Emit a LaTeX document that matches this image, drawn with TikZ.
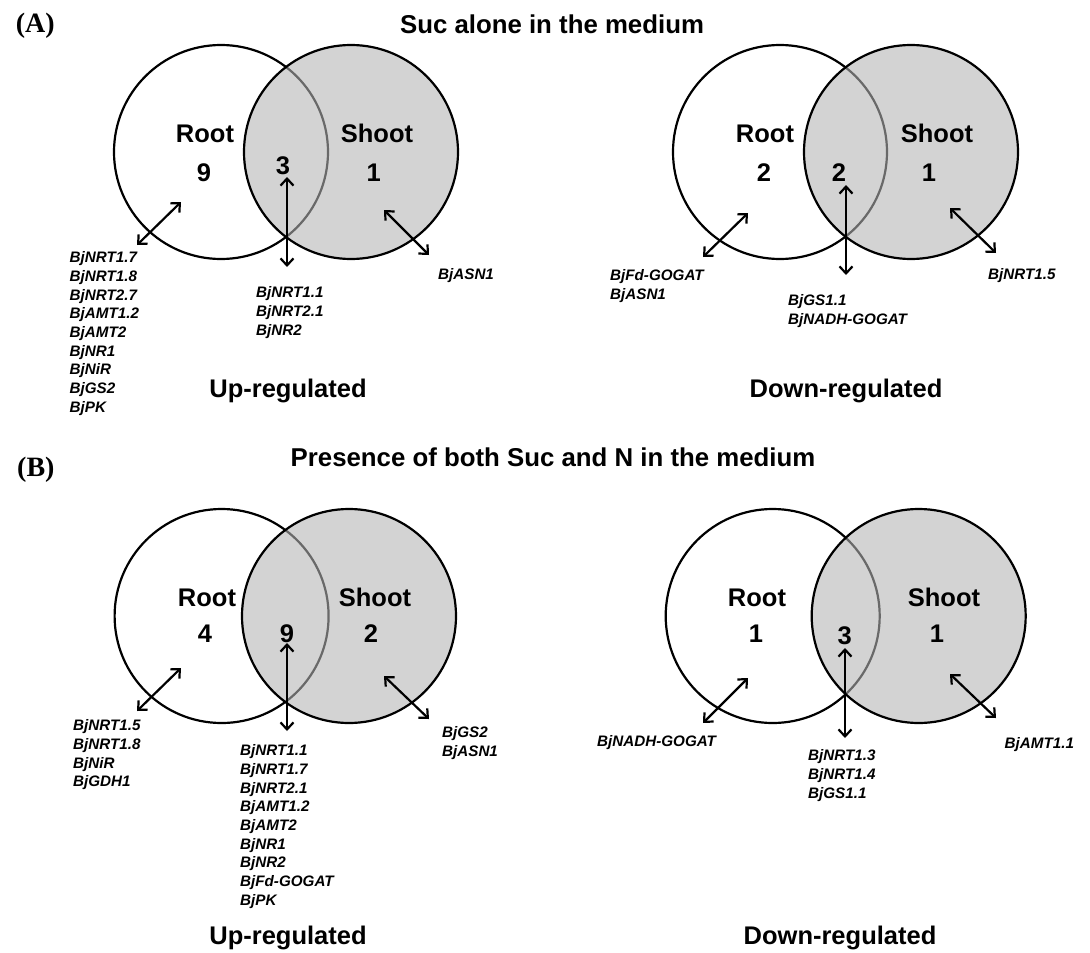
\documentclass[tikz,border=0pt]{standalone}
\usepackage{fontspec}
\setmainfont{Liberation Sans}
\newfontfamily\panelfont{Liberation Serif}
\usetikzlibrary{arrows.meta}
\definecolor{shadegray}{RGB}{211,211,211}
\definecolor{innergray}{RGB}{105,105,105}
\newcommand\vennpair[4]{% lx, rx, cy, r
  \draw[circ] (#1,#3) circle (#4);
  \fill[shadegray] (#2,#3) circle (#4);
  \begin{scope}
    \clip (#2,#3) circle (#4);
    \draw[circ,innergray] (#1,#3) circle (#4);
  \end{scope}
  \draw[circ] (#2,#3) circle (#4);
}
\begin{document}
\begin{tikzpicture}[x=1pt,y=-1pt,
  big/.style={font=\fontsize{25.5}{30}\selectfont\bfseries, inner sep=0, anchor=base},
  ttl/.style={font=\fontsize{25.8}{30}\selectfont\bfseries, inner sep=0, anchor=base},
  gene/.style={font=\fontsize{15.2}{18.7}\selectfont\bfseries\itshape, inner sep=0, anchor=north west, align=left},
  panel/.style={font=\panelfont\fontsize{28}{32}\selectfont\bfseries, inner sep=0, anchor=base west},
  circ/.style={line width=2.2pt},
  arr/.style={line width=2.2pt, {Straight Barb[length=7pt,width=13pt]}-{Straight Barb[length=7pt,width=13pt]}},
]
\useasboundingbox (0,0) rectangle (1090,953);

% ---------- Panel A ----------
\node[panel] (pA) at (15.6,32) {(A)};
\node[ttl] (tA) at (552,33) {Suc alone in the medium};

% A up
\vennpair{221}{351}{152}{107}
\node[big] (auRoot) at (205,142) {Root};
\node[big] (au9) at (204,181) {9};
\node[big] (au3) at (283,174) {3};
\node[big] (auShoot) at (377,142) {Shoot};
\node[big] (au1) at (373.6,181) {1};
\coordinate (auLa) at (137,245); \coordinate (auLb) at (181,202);
\coordinate (auVa) at (287,177); \coordinate (auVb) at (287,267);
\coordinate (auRa) at (384,210); \coordinate (auRb) at (429,255);
\draw[arr] (auLa) -- (auLb);
\draw[arr] (auVa) -- (auVb);
\draw[arr] (auRa) -- (auRb);
\node[gene] (auG1) at (69.5,251.5) {BjNRT1.7\\BjNRT1.8\\BjNRT2.7\\BjAMT1.2\\BjAMT2\\BjNR1\\BjNiR\\BjGS2\\BjPK};
\node[gene] (auG2) at (256,286.5) {BjNRT1.1\\BjNRT2.1\\BjNR2};
\node[gene] (auG3) at (438,268.5) {BjASN1};
\node[big] (auLab) at (288,397) {Up-regulated};

% A down
\vennpair{780}{911}{152}{107}
\node[big] (adRoot) at (765,142) {Root};
\node[big] (ad2a) at (764,181) {2};
\node[big] (ad2b) at (839,181) {2};
\node[big] (adShoot) at (937,142) {Shoot};
\node[big] (ad1) at (929,181) {1};
\coordinate (adLa) at (703,257); \coordinate (adLb) at (748,213);
\coordinate (adVa) at (846,185); \coordinate (adVb) at (846,275);
\coordinate (adRa) at (950,208); \coordinate (adRb) at (996,253);
\draw[arr] (adLa) -- (adLb);
\draw[arr] (adVa) -- (adVb);
\draw[arr] (adRa) -- (adRb);
\node[gene] (adG1) at (610,269.5) {BjFd-GOGAT\\BjASN1};
\node[gene] (adG2) at (788,294.5) {BjGS1.1\\BjNADH-GOGAT};
\node[gene] (adG3) at (988,268.5) {BjNRT1.5};
\node[big] (adLab) at (846,397) {Down-regulated};

% ---------- Panel B ----------
\node[panel] (pB) at (17,476) {(B)};
\node[ttl] (tB) at (553,466) {Presence of both Suc and N in the medium};

% B up
\vennpair{221.6}{349}{616}{107}
\node[big] (buRoot) at (207,606) {Root};
\node[big] (bu4) at (205,642) {4};
\node[big] (bu9) at (287,642) {9};
\node[big] (buShoot) at (375,606) {Shoot};
\node[big] (bu2) at (371,642) {2};
\coordinate (buLa) at (137,711); \coordinate (buLb) at (181,668);
\coordinate (buVa) at (287,643); \coordinate (buVb) at (287,731);
\coordinate (buRa) at (384,676); \coordinate (buRb) at (429,719);
\draw[arr] (buLa) -- (buLb);
\draw[arr] (buVa) -- (buVb);
\draw[arr] (buRa) -- (buRb);
\node[gene] (buG1) at (73,719.5) {BjNRT1.5\\BjNRT1.8\\BjNiR\\BjGDH1};
\node[gene] (buG2) at (240,744.5) {BjNRT1.1\\BjNRT1.7\\BjNRT2.1\\BjAMT1.2\\BjAMT2\\BjNR1\\BjNR2\\BjFd-GOGAT\\BjPK};
\node[gene] (buG3) at (442,726.5) {BjGS2\\BjASN1};
\node[big] (buLab) at (288,944) {Up-regulated};

% B down
\vennpair{772.7}{918.7}{616}{107}
\node[big] (bdRoot) at (757,606) {Root};
\node[big] (bd1a) at (756,642) {1};
\node[big] (bd3) at (844.6,644) {3};
\node[big] (bdShoot) at (944,606) {Shoot};
\node[big] (bd1b) at (937,642) {1};
\coordinate (bdLa) at (703,723); \coordinate (bdLb) at (748,678);
\coordinate (bdVa) at (845,648); \coordinate (bdVb) at (845,738);
\coordinate (bdRa) at (950,674); \coordinate (bdRb) at (996,718);
\draw[arr] (bdLa) -- (bdLb);
\draw[arr] (bdVa) -- (bdVb);
\draw[arr] (bdRa) -- (bdRb);
\node[gene] (bdG1) at (597,735.5) {BjNADH-GOGAT};
\node[gene] (bdG2) at (808,749.5) {BjNRT1.3\\BjNRT1.4\\BjGS1.1};
\node[gene] (bdG3) at (1004.5,737.5) {BjAMT1.1};
\node[big] (bdLab) at (840,944) {Down-regulated};
\end{tikzpicture}
\end{document}
